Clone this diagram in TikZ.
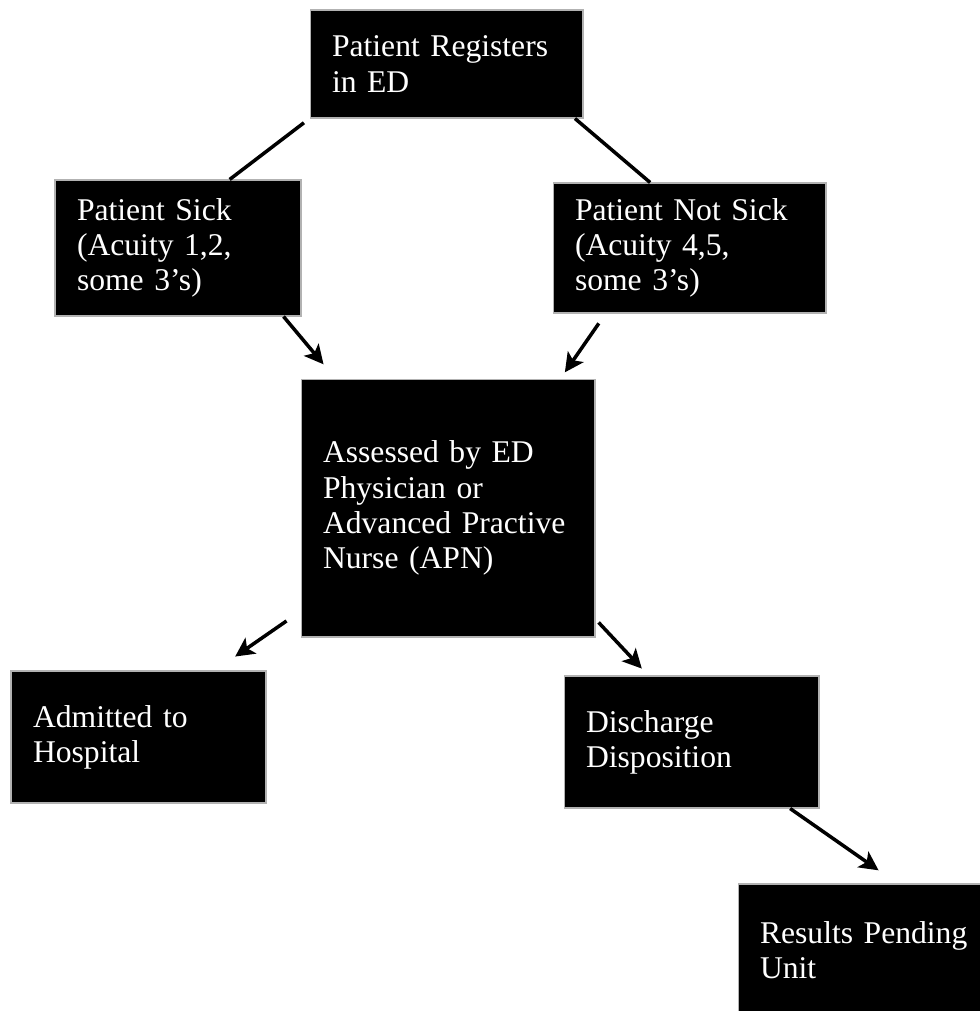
\documentclass[tikz,border=0pt]{standalone}
\usepackage{fontspec}
\setmainfont{Liberation Serif}
\usetikzlibrary{arrows.meta}

\begin{document}
\begin{tikzpicture}[x=0.02cm, y=-0.02cm,
  flowbox/.style n args={2}{draw=gray!60, line width=0.6pt, fill=black, text=white,
    font=\fontsize{18}{20}\selectfont, align=left, inner xsep=0.44cm, inner ysep=0pt,
    text width=#1, minimum height=#2},
  link/.style={line width=2pt},
  arr/.style={link, -{Stealth[length=0.38cm, width=0.38cm, inset=0.09cm]}}]
  \useasboundingbox (0,0) rectangle (980,1011);
  \node[flowbox={4.58cm}{2.16cm}] (reg) at (446.5,64) {Patient Registers\\in ED};
  \node[flowbox={4.04cm}{2.72cm}] (sick) at (178,248) {Patient Sick\\(Acuity 1,2,\\some 3’s)};
  \node[flowbox={4.58cm}{2.6cm}] (nsick) at (689.5,248) {Patient Not Sick\\(Acuity 4,5,\\some 3’s)};
  \node[flowbox={5.0cm}{5.16cm}] (asmt) at (448,508) {Assessed by ED\\Physician or\\Advanced Practive\\Nurse (APN)};
  \node[flowbox={4.22cm}{2.64cm}] (adm) at (138.5,737) {Admitted to\\Hospital};
  \node[flowbox={4.22cm}{2.64cm}] (dis) at (691.5,742) {Discharge\\Disposition};
  \node[flowbox={4.2cm}{2.64cm}] (res) at (865,950) {Results Pending\\Unit};
  % connectors
  \draw[link, shorten <=0.14cm] (reg.south west) -- (sick.53);
  \draw[link] (reg.-23) -- (nsick.121);
  \draw[arr, shorten >=0.37cm] (sick.-33) -- (asmt.131);
  \draw[arr, shorten <=0.24cm, shorten >=0.15cm] (nsick.-142) -- (asmt.49);
  \draw[arr, shorten <=0.34cm, shorten >=0.49cm] (asmt.-145) -- (adm.41);
  \draw[arr, shorten <=0.09cm, shorten >=0.19cm] (asmt.-37) -- (dis.123);
  \draw[arr, shorten >=0.46cm] (dis.-34) -- (res.64);
\end{tikzpicture}
\end{document}
